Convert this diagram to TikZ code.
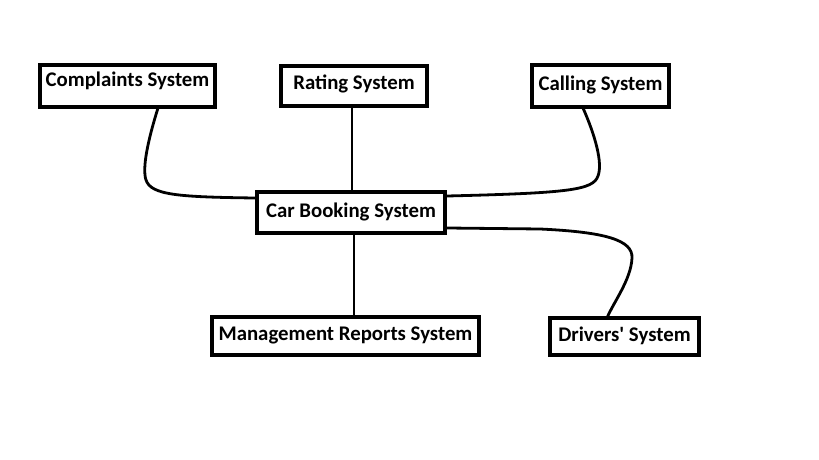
\documentclass[tikz,border=0pt]{standalone}
\usepackage{fontspec}
\setmainfont{Carlito}[Ligatures=TeXOff]
\begin{document}
\begin{tikzpicture}[x=0.75pt,y=-0.75pt,
  sysbox/.style={draw=black, line width=2.3pt, fill=white, inner xsep=0pt, inner ysep=0pt,
    anchor=base, font=\fontsize{15.6}{18}\selectfont\bfseries, align=center},
  mainbox/.style={sysbox, line width=3.4pt},
  conn/.style={draw=black, line width=2.1pt, line cap=round}]
\useasboundingbox[fill=white] (0,0) rectangle (819,460);
\node[sysbox, minimum width=131.25pt, text height=16.5pt, text depth=15pt] (comp) at (127.5,87) {Complaints System};
\node[sysbox, minimum width=109.5pt, text height=18pt, text depth=12pt] (rat) at (354,90) {Rating System};
\node[sysbox, minimum width=102.75pt, text height=19.5pt, text depth=12pt] (call) at (600.5,91) {Calling System};
\node[mainbox, minimum width=141pt, text height=19.5pt, text depth=11.25pt] (car) at (351,218) {Car Booking System};
\node[sysbox, minimum width=200.25pt, text height=17.25pt, text depth=11.25pt] (mgmt) at (345.5,340) {Management Reports System};
\node[sysbox, minimum width=111.75pt, text height=17.25pt, text depth=10.5pt] (drv) at (624.5,341) {Drivers' System};
\coordinate (compout) at (158,108);
\coordinate (callout) at (583,108);
\coordinate (drvin) at (607,318);
\draw[conn] (compout) .. controls (148,140) and (142,168) .. (146,180)
  .. controls (151,195) and (178,197) .. (car.west |- 0,198);
\draw[conn] (callout) .. controls (595,135) and (603,163) .. (598,176)
  .. controls (593,190) and (570,193) .. (car.east |- 0,196);
\draw[conn] (car.east |- 0,228) -- (540,229) .. controls (605,232) and (633,240) .. (632,258)
  .. controls (631,280) and (613,303) .. (drvin);
\draw[conn] (352,108) -- (352,192);
\draw[conn] (354,233) -- (mgmt.north -| 354,0);
\end{tikzpicture}
\end{document}
